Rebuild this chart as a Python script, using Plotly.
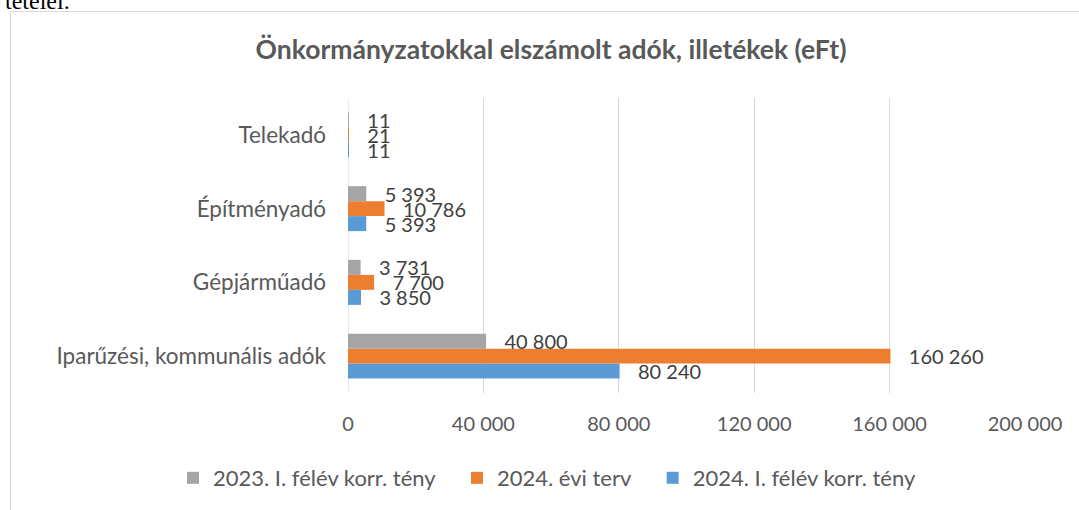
import plotly.graph_objects as go

categories = ["Iparűzési, kommunális adók", "Gépjárműadó", "Építményadó", "Telekadó"]
series_names = ["2024. I. félév korr. tény", "2024. évi terv", "2023. I. félév korr. tény"]
vals_2024_h1 = [80240, 3850, 5393, 11]
vals_2024_plan = [160260, 7700, 10786, 21]
vals_2023_h1 = [40800, 3731, 5393, 11]
colors = ["#5B9BD5", "#ED7D31", "#A5A5A5"]
x_ticks = [0, 40000, 80000, 120000, 160000, 200000]

FONT = "Lato"
W, H = 1079, 510
L, R, T, B = 348, 54, 98, 117


def fmt(v):
    return f"{v:,}".replace(",", " ")


fig = go.Figure()
legend_pad = ["", "\u00a0" * 3, "\u00a0" * 3]
for name, vals, col, pad in zip(series_names, [vals_2024_h1, vals_2024_plan, vals_2023_h1], colors, legend_pad):
    fig.add_trace(go.Bar(
        y=categories, x=vals, orientation="h", name=name + pad,
        marker=dict(color=col, line=dict(width=0)),
        text=["\u00a0\u00a0\u00a0" + fmt(v) for v in vals],
        textposition="outside", constraintext="none", cliponaxis=False,
        textfont=dict(family=FONT, size=20, color="#404040"),
    ))

px = lambda x: (x - L) / (W - L - R)
py = lambda y: (H - B - y) / (H - T - B)

fig.update_layout(
    width=W, height=H,
    margin=dict(l=L, r=R, t=T, b=B, autoexpand=False),
    paper_bgcolor="white", plot_bgcolor="white",
    barmode="group", bargap=0.39, bargroupgap=0,
    font=dict(family=FONT, color="#595959"),
    title=dict(text="<b>Önkormányzatokkal elszámolt adók, illetékek (eFt)</b>",
               x=551 / W, xref="container", xanchor="center",
               y=1 - 50 / H, yref="container", yanchor="middle",
               font=dict(family=FONT, size=26.5, color="#595959")),
    legend=dict(orientation="h", traceorder="reversed",
                x=px(173), xref="paper", xanchor="left",
                y=py(478), yref="paper", yanchor="middle",
                font=dict(family=FONT, size=22, color="#595959"),
                bgcolor="rgba(0,0,0,0)"),
    xaxis=dict(range=[0, 200000], tickvals=x_ticks, ticktext=[fmt(v) for v in x_ticks],
               showgrid=True, gridcolor="#D9D9D9", gridwidth=1, zeroline=False,
               showline=False, ticks="", ticklabelstandoff=17, automargin=False,
               tickfont=dict(family=FONT, size=20, color="#595959")),
    yaxis=dict(showgrid=False, zeroline=False, showline=False, ticks="",
               ticklabelstandoff=21, automargin=False,
               tickfont=dict(family=FONT, size=22.5, color="#595959")),
    showlegend=True,
)

# chart area border (extends beyond the visible window on right/bottom)
fig.add_shape(type="rect", xref="paper", yref="paper",
              x0=px(10.5), x1=px(1090), y0=py(530), y1=py(11.5),
              line=dict(color="#D9D9D9", width=1), fillcolor="rgba(0,0,0,0)", layer="below")
# left axis line at zero
fig.add_shape(type="line", xref="x", yref="paper", x0=0, x1=0, y0=0, y1=1,
              line=dict(color="#D9D9D9", width=1), layer="below")

# cut-off document text above the chart
fig.add_annotation(text="tételei.", xref="paper", yref="paper",
                   x=px(72), y=py(16), xanchor="right", yanchor="bottom",
                   showarrow=False, font=dict(family="Liberation Serif", size=24, color="black"))

fig.write_html("out.html", config={"displayModeBar": False},
               post_script="document.body.style.margin='0';document.body.style.overflow='hidden';")
